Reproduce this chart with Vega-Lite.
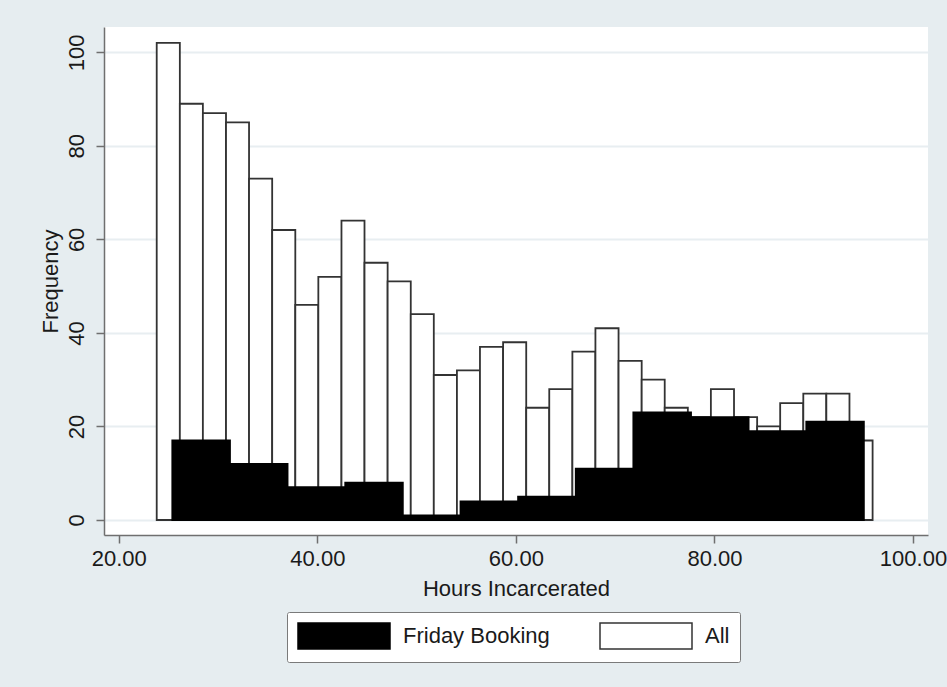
{
  "$schema": "https://vega.github.io/schema/vega-lite/v6.json",
  "width": 824,
  "height": 508,
  "autosize": {"type": "none"},
  "padding": {"left": 104, "top": 27, "right": 19, "bottom": 152},
  "background": "#e6edf0",
  "config": {
    "view": {"fill": "#ffffff", "stroke": null},
    "font": "Liberation Sans",
    "axis": {
      "domainColor": "#6f6f6f",
      "domainWidth": 1.5,
      "tickColor": "#6f6f6f",
      "tickWidth": 1.5,
      "tickSize": 8,
      "labelFont": "Liberation Sans",
      "labelFontSize": 22,
      "labelColor": "#1a1a1a",
      "titleFont": "Liberation Sans",
      "titleFontSize": 22,
      "titleFontWeight": "normal",
      "titleColor": "#1a1a1a",
      "labelOverlap": false,
      "labelFlush": false
    }
  },
  "data": {
    "values": [
      {"series": "All", "start": 23.82, "end": 26.15, "count": 102},
      {"series": "All", "start": 26.15, "end": 28.47, "count": 89},
      {"series": "All", "start": 28.47, "end": 30.80, "count": 87},
      {"series": "All", "start": 30.80, "end": 33.12, "count": 85},
      {"series": "All", "start": 33.12, "end": 35.45, "count": 73},
      {"series": "All", "start": 35.45, "end": 37.78, "count": 62},
      {"series": "All", "start": 37.78, "end": 40.10, "count": 46},
      {"series": "All", "start": 40.10, "end": 42.43, "count": 52},
      {"series": "All", "start": 42.43, "end": 44.75, "count": 64},
      {"series": "All", "start": 44.75, "end": 47.08, "count": 55},
      {"series": "All", "start": 47.08, "end": 49.41, "count": 51},
      {"series": "All", "start": 49.41, "end": 51.73, "count": 44},
      {"series": "All", "start": 51.73, "end": 54.06, "count": 31},
      {"series": "All", "start": 54.06, "end": 56.38, "count": 32},
      {"series": "All", "start": 56.38, "end": 58.71, "count": 37},
      {"series": "All", "start": 58.71, "end": 61.04, "count": 38},
      {"series": "All", "start": 61.04, "end": 63.36, "count": 24},
      {"series": "All", "start": 63.36, "end": 65.69, "count": 28},
      {"series": "All", "start": 65.69, "end": 68.01, "count": 36},
      {"series": "All", "start": 68.01, "end": 70.34, "count": 41},
      {"series": "All", "start": 70.34, "end": 72.67, "count": 34},
      {"series": "All", "start": 72.67, "end": 74.99, "count": 30},
      {"series": "All", "start": 74.99, "end": 77.32, "count": 24},
      {"series": "All", "start": 77.32, "end": 79.64, "count": 22},
      {"series": "All", "start": 79.64, "end": 81.97, "count": 28},
      {"series": "All", "start": 81.97, "end": 84.30, "count": 22},
      {"series": "All", "start": 84.30, "end": 86.62, "count": 20},
      {"series": "All", "start": 86.62, "end": 88.95, "count": 25},
      {"series": "All", "start": 88.95, "end": 91.27, "count": 27},
      {"series": "All", "start": 91.27, "end": 93.60, "count": 27},
      {"series": "All", "start": 93.60, "end": 95.93, "count": 17},
      {"series": "Friday Booking", "start": 25.39, "end": 31.20, "count": 17},
      {"series": "Friday Booking", "start": 31.20, "end": 37.00, "count": 12},
      {"series": "Friday Booking", "start": 37.00, "end": 42.81, "count": 7},
      {"series": "Friday Booking", "start": 42.81, "end": 48.61, "count": 8},
      {"series": "Friday Booking", "start": 48.61, "end": 54.42, "count": 1},
      {"series": "Friday Booking", "start": 54.42, "end": 60.22, "count": 4},
      {"series": "Friday Booking", "start": 60.22, "end": 66.03, "count": 5},
      {"series": "Friday Booking", "start": 66.03, "end": 71.83, "count": 11},
      {"series": "Friday Booking", "start": 71.83, "end": 77.64, "count": 23},
      {"series": "Friday Booking", "start": 77.64, "end": 83.44, "count": 22},
      {"series": "Friday Booking", "start": 83.44, "end": 89.25, "count": 19},
      {"series": "Friday Booking", "start": 89.25, "end": 95.05, "count": 21}
    ]
  },
  "encoding": {
    "x": {
      "field": "start",
      "type": "quantitative",
      "title": "Hours Incarcerated",
      "scale": {"domain": [18.51, 101.51], "nice": false, "zero": false},
      "axis": {
        "values": [20, 40, 60, 80, 100],
        "format": ".2f",
        "grid": false,
        "labelPadding": 5,
        "titlePadding": 9
      }
    },
    "x2": {"field": "end"},
    "y": {
      "field": "count",
      "type": "quantitative",
      "title": "Frequency",
      "stack": null,
      "scale": {"domain": [-3.21, 105.41], "nice": false, "zero": false},
      "axis": {
        "values": [0, 20, 40, 60, 80, 100],
        "grid": true,
        "gridColor": "#e8eef1",
        "gridWidth": 2,
        "labelAngle": 270,
        "labelAlign": "center",
        "labelBaseline": "alphabetic",
        "labelPadding": 13,
        "titlePadding": 3
      }
    },
    "y2": {"datum": 0},
    "fill": {
      "field": "series",
      "type": "nominal",
      "scale": {"domain": ["Friday Booking", "All"], "range": ["#000000", "#ffffff"]},
      "legend": {
        "title": null,
        "orient": "none",
        "legendX": 183,
        "legendY": 585,
        "direction": "horizontal",
        "symbolType": "M-1,-1H6.077V1H-1Z",
        "symbolSize": 676,
        "symbolStrokeWidth": 1.5,
        "labelFont": "Liberation Sans",
        "labelFontSize": 22,
        "labelColor": "#1a1a1a",
        "labelOffset": 78,
        "columnPadding": 47,
        "padding": 10,
        "fillColor": "#ffffff",
        "strokeColor": "#7a7a7a",
        "cornerRadius": 2
      }
    },
    "stroke": {
      "field": "series",
      "type": "nominal",
      "scale": {"domain": ["Friday Booking", "All"], "range": ["#000000", "#333333"]},
      "legend": {
        "title": null,
        "orient": "none",
        "legendX": 183,
        "legendY": 585,
        "direction": "horizontal",
        "symbolType": "M-1,-1H6.077V1H-1Z",
        "symbolSize": 676,
        "symbolStrokeWidth": 1.5,
        "labelFont": "Liberation Sans",
        "labelFontSize": 22,
        "labelColor": "#1a1a1a",
        "labelOffset": 78,
        "columnPadding": 47,
        "padding": 10,
        "fillColor": "#ffffff",
        "strokeColor": "#7a7a7a",
        "cornerRadius": 2
      }
    }
  },
  "layer": [
    {
      "transform": [{"filter": "datum.series === 'All'"}],
      "mark": {"type": "bar", "strokeWidth": 1.8}
    },
    {
      "transform": [{"filter": "datum.series === 'Friday Booking'"}],
      "mark": {"type": "bar", "strokeWidth": 1.8}
    }
  ]
}
